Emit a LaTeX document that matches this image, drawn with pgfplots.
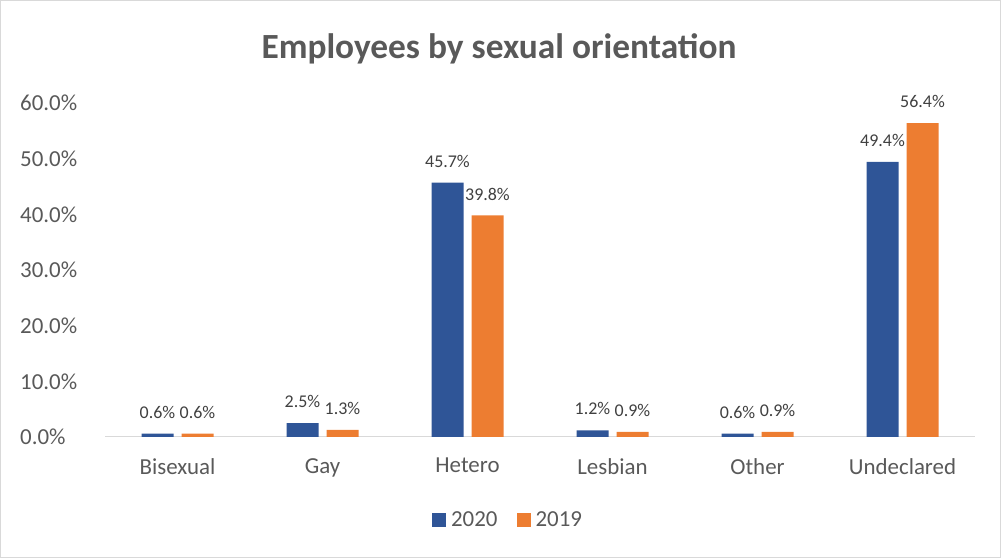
\documentclass[border=0pt]{standalone}
\usepackage{pgfplots}
\pgfplotsset{compat=1.18}
\usepackage{fontspec}
\setmainfont{Carlito}
\definecolor{c2020}{HTML}{2F5597}
\definecolor{c2019}{HTML}{ED7D31}
\definecolor{txt}{HTML}{595959}
\definecolor{lbl}{HTML}{404040}
\definecolor{frame}{HTML}{D9D9D9}
\begin{document}
\begin{tikzpicture}[x=1bp,y=1bp]
\draw[frame, line width=1bp] (0.5,0.5) rectangle (1000.5,557.5);
\node[font=\fontsize{35.5}{40}\selectfont\bfseries, text=txt] at (499,509) {Employees by sexual orientation};
\begin{axis}[
    at={(105bp,121bp)}, anchor=south west,
    scale only axis,
    width=870bp, height=334bp,
    ybar=8bp, bar width=32bp,
    xmin=-0.5, xmax=5.5,
    ymin=0, ymax=60,
    xtick={0,...,5},
    xticklabels={Bisexual,Gay,Hetero,Lesbian,Other,Undeclared},
    ytick={0,10,...,60},
    yticklabel={\pgfmathprintnumber[fixed,fixed zerofill,precision=1]{\tick}\%},
    /pgf/number format/assume math mode=true,
    axis x line=bottom, axis y line=left,
    x axis line style={-, frame, line width=1bp},
    y axis line style={draw=none},
    major tick length=0pt,
    ticklabel style={font=\fontsize{23}{27}\selectfont, text=txt},
    yticklabel style={anchor=west, inner sep=0pt, xshift=-85bp},
    xticklabel style={anchor=north, inner sep=0pt, yshift=-21bp},
    nodes near coords={\pgfmathprintnumber[fixed,fixed zerofill,precision=1]{\pgfplotspointmeta}\%},
    nodes near coords style={font=\fontsize{18}{20}\selectfont, text=lbl, inner sep=0pt, yshift=15bp},
    legend style={at={(0.465,-0.2485)}, anchor=center, draw=none, fill=none,
        legend columns=2, font=\fontsize{23}{27}\selectfont, text=txt,
        nodes={inner xsep=5bp},
        /tikz/every even column/.append style={column sep=14bp}},
    legend image code/.code={\fill[#1] (0bp,-7bp) rectangle (14bp,7bp);},
]
\addplot[draw=none, fill=c2020] coordinates {(0,0.6) (1,2.5) (2,45.7) (3,1.2) (4,0.6) (5,49.4)};
\addlegendentry{2020}
\addplot[draw=none, fill=c2019] coordinates {(0,0.6) (1,1.3) (2,39.8) (3,0.9) (4,0.9) (5,56.4)};
\addlegendentry{2019}
\end{axis}
\end{tikzpicture}
\end{document}
